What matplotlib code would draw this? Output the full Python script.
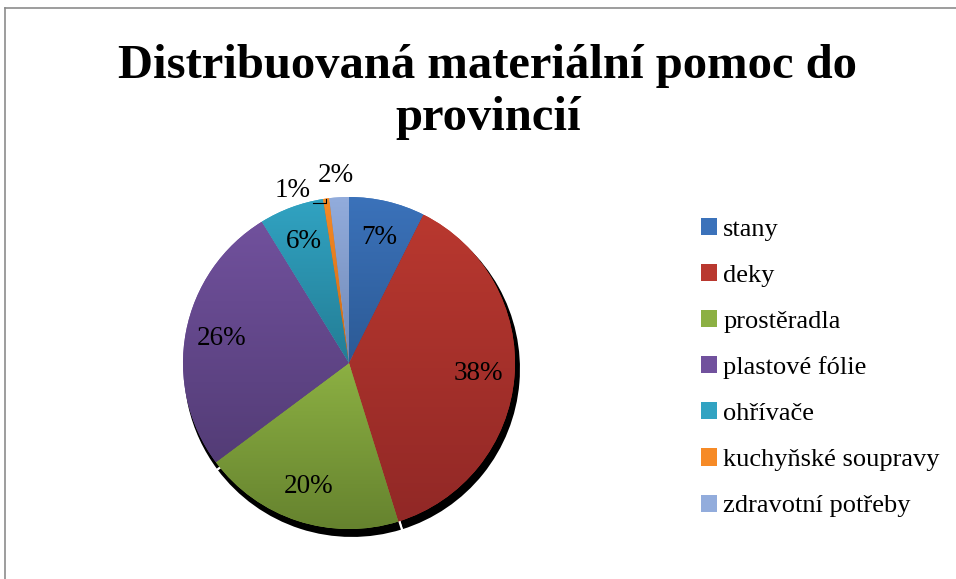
import numpy as np
import matplotlib
matplotlib.use("Agg")
import matplotlib.pyplot as plt
from matplotlib.patches import Patch, Wedge
from matplotlib.colors import to_rgb

plt.rcParams["font.family"] = ["Liberation Serif", "DejaVu Serif"]

title = "Distribuovaná materiální pomoc do\nprovincií"
labels = ["stany", "deky", "prostěradla", "plastové fólie", "ohřívače",
          "kuchyňské soupravy", "zdravotní potřeby"]
values = [7.4, 37.8, 19.6, 26.4, 6.3, 0.6, 1.9]
# top / bottom colour of the gradient in each slice
top_colors = ["#3b72ba", "#b9382f", "#8cb043", "#71519d", "#31a3c2", "#f68a26", "#92acdc"]
bottom_colors = ["#2c5a95", "#912826", "#65822e", "#533c76", "#237d95", "#c86a18", "#6f88b6"]

fig = plt.figure(figsize=(9.56, 5.79), dpi=100)

# thin grey frame (top and left edge visible)
fig.add_artist(plt.Line2D([5 / 956, 1], [1 - 8 / 579, 1 - 8 / 579], color="#8c8c8c", lw=1.2))
fig.add_artist(plt.Line2D([5 / 956, 5 / 956], [0, 1 - 8 / 579], color="#8c8c8c", lw=1.2))

fig.text(488 / 956, 1 - 92 / 579, title, ha="center", va="center",
         fontsize=35, fontweight="bold", linespacing=1.22)

# axes in pixel-like data units, pie centre at (349, 363) of the image
R = 166
ax = fig.add_axes([149 / 956, (579 - 563) / 579, 400 / 956, 400 / 579])
ax.axis("off")

wedges, texts, autotexts = ax.pie(values, radius=R, startangle=90, counterclock=False,
                                  colors=top_colors, autopct="%.0f%%", pctdistance=0.78,
                                  textprops=dict(fontsize=19.5, color="black"))

# shadow: black copies of the wedges shifted down/right, split by white edges
for w in wedges:
    s = Wedge((3, -6), R + 3, w.theta1, w.theta2, facecolor="black",
              edgecolor="white", lw=1.5, zorder=0)
    ax.add_patch(s)

# vertical gradient inside each wedge
for w, c1, c2 in zip(wedges, top_colors, bottom_colors):
    v = w.get_path().vertices
    x0, x1 = v[:, 0].min(), v[:, 0].max()
    y0, y1 = v[:, 1].min(), v[:, 1].max()
    t = np.linspace(0, 1, 256)[:, None, None]
    grad = (1 - t) * np.array(to_rgb(c1)) + t * np.array(to_rgb(c2))
    im = ax.imshow(grad, extent=[x0, x1, y0, y1], origin="upper", aspect="auto",
                   zorder=1.5, interpolation="bilinear")
    im.set_clip_path(w)
    w.set_zorder(1)

# small slices: labels outside
ang1 = np.deg2rad(90 + 18)
autotexts[5].set_position((1.09 * R * np.cos(ang1), 1.09 * R * np.sin(ang1)))
ang2 = np.deg2rad(90 + 4)
autotexts[6].set_position((1.13 * R * np.cos(ang2), 1.13 * R * np.sin(ang2)))
for t in autotexts:
    t.set_zorder(3)
# leader line for the 1 % label
mid = np.deg2rad((wedges[5].theta1 + wedges[5].theta2) / 2)
ax.plot([-36, R * np.cos(mid), R * np.cos(mid)],
        [160, 160, R * np.sin(mid)], color="black", lw=0.8, zorder=3)

ax.set_xlim(-200, 200)
ax.set_ylim(-200, 200)
ax.set_aspect("equal")

handles = [Patch(facecolor=c, edgecolor="none") for c in top_colors]
fig.legend(handles, labels, loc="upper left", bbox_to_anchor=(701 / 956, 1 - 218 / 579),
           frameon=False, fontsize=19, handlelength=0.62, handleheight=0.62,
           handletextpad=0.22, labelspacing=0.88, borderaxespad=0, borderpad=0)

fig.savefig("out.png", dpi=100)
